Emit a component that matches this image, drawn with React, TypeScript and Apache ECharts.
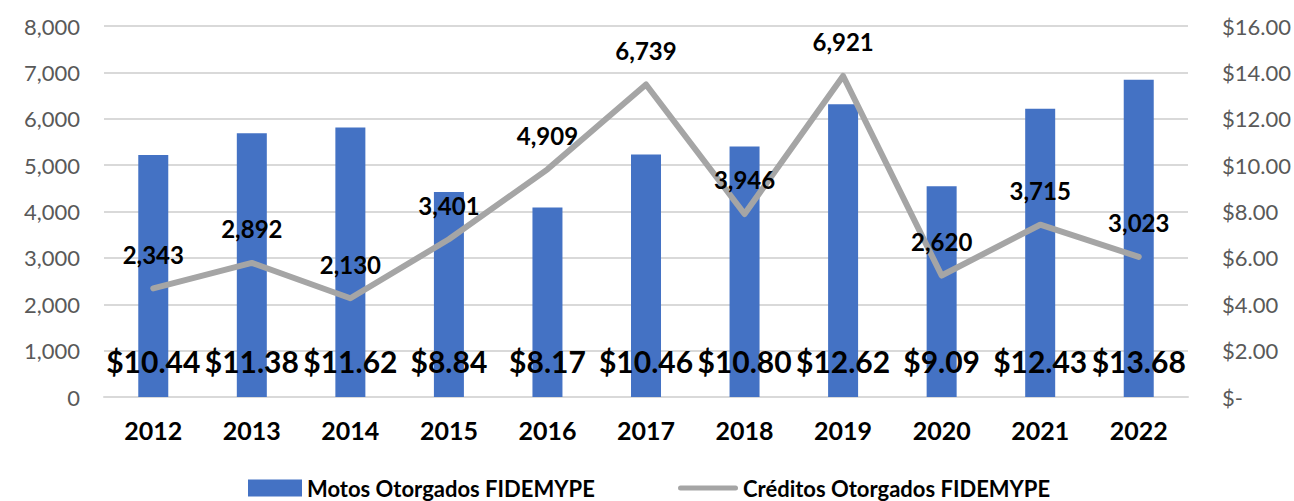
import React, { useEffect, useRef } from "react";
import * as echarts from "echarts";

const years = ["2012", "2013", "2014", "2015", "2016", "2017", "2018", "2019", "2020", "2021", "2022"];
const motosValues = [10.44, 11.38, 11.62, 8.84, 8.17, 10.46, 10.8, 12.62, 9.09, 12.43, 13.68];
const creditosValues = [2343, 2892, 2130, 3401, 4909, 6739, 3946, 6921, 2620, 3715, 3023];
const barName = "Motos Otorgados FIDEMYPE";
const lineName = "Créditos Otorgados FIDEMYPE";

const FONT = "Lato, 'Noto Sans', sans-serif";

const legendText = { fontFamily: FONT, fontSize: 22, fontWeight: "bold", color: "#000" };

export default function App() {
  const ref = useRef<HTMLDivElement>(null);
  useEffect(() => {
    if (!ref.current) return;
    const chart = echarts.init(ref.current, undefined, { renderer: "svg" });
    chart.setOption({
      animation: false,
      textStyle: { fontFamily: FONT },
      grid: { left: 104, right: 105, top: 26, bottom: 104, containLabel: false },
      legend: [
        {
          left: 248,
          top: 477,
          padding: 0,
          itemWidth: 54,
          itemHeight: 17,
          itemGap: 10,
          textStyle: legendText,
          data: [{ name: barName, icon: "rect" }],
        },
        {
          left: 678,
          top: 477,
          padding: 0,
          itemWidth: 60,
          itemHeight: 17,
          textStyle: legendText,
          data: [
            {
              name: lineName,
              icon: "path://M2.5,0 L57.5,0 A2.5,2.5 0 0 1 57.5,5 L2.5,5 A2.5,2.5 0 0 1 2.5,0 Z",
              itemStyle: { color: "#a5a5a5" },
            },
          ],
        },
      ],
      xAxis: {
        type: "category",
        data: years,
        axisTick: { show: false },
        axisLine: { lineStyle: { color: "#d9d9d9", width: 2 } },
        axisLabel: { fontFamily: FONT, fontSize: 25, fontWeight: "bold", color: "#000", margin: 20 },
      },
      yAxis: [
        {
          type: "value",
          min: 0,
          max: 8000,
          interval: 1000,
          axisLine: { show: false },
          axisTick: { show: false },
          splitLine: { lineStyle: { color: "#d9d9d9", width: 2 } },
          axisLabel: {
            fontFamily: FONT,
            fontSize: 22,
            color: "#595959",
            margin: 24,
            formatter: (v: number) => v.toLocaleString("en-US"),
          },
        },
        {
          type: "value",
          min: 0,
          max: 16,
          interval: 2,
          axisLine: { show: false },
          axisTick: { show: false },
          splitLine: { show: false },
          axisLabel: {
            fontFamily: FONT,
            fontSize: 22,
            color: "#595959",
            margin: 34,
            formatter: (v: number) => (v === 0 ? "$-" : "$" + v.toFixed(2)),
          },
        },
      ],
      series: [
        {
          name: barName,
          type: "bar",
          yAxisIndex: 1,
          data: motosValues,
          barWidth: 30,
          itemStyle: { color: "#4472c4" },
          label: {
            show: true,
            position: "insideBottom",
            distance: 21,
            fontFamily: FONT,
            fontSize: 30,
            fontWeight: "bold",
            color: "#000",
            formatter: (p: any) => "$" + Number(p.value).toFixed(2),
          },
          z: 2,
        },
        {
          name: lineName,
          type: "line",
          yAxisIndex: 0,
          data: creditosValues,
          symbol: "circle",
          symbolSize: 0.1,
          showSymbol: true,
          lineStyle: { color: "#a5a5a5", width: 6, cap: "round", join: "round" },
          itemStyle: { color: "#a5a5a5" },
          label: {
            show: true,
            position: "top",
            distance: 22,
            fontFamily: FONT,
            fontSize: 24,
            fontWeight: "bold",
            color: "#000",
            formatter: (p: any) => Number(p.value).toLocaleString("en-US"),
          },
          labelLayout: { hideOverlap: false },
          z: 3,
        },
      ],
    });
    return () => chart.dispose();
  }, []);
  return (
    <div
      ref={ref}
      style={{ position: "absolute", left: 0, top: 0, width: 1294, height: 501 }}
    />
  );
}
